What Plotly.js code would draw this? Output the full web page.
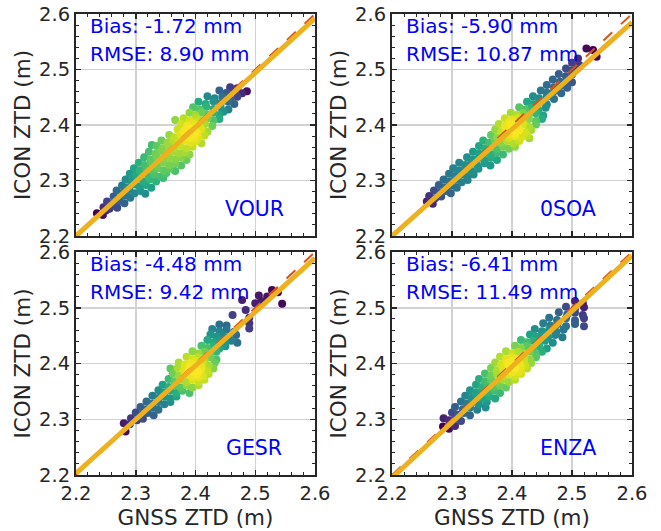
<!DOCTYPE html>
<html>
<head>
<meta charset="utf-8">
<script src="https://cdn.plot.ly/plotly-3.0.1.min.js"></script>
<style>html,body{margin:0;padding:0;background:#fff;}#chart{width:661px;height:531px;}</style>
</head>
<body>
<div id="chart"></div>
<script>
// ---------------- data ----------------
const stations = ['VOUR', '0SOA', 'GESR', 'ENZA'];
const biasMM = ['-1.72', '-5.90', '-4.48', '-6.41'];
const rmseMM = ['8.90', '10.87', '9.42', '11.49'];
const fitSlope = [0.98, 0.9625, 0.965, 0.996];
const fitIntercept = [0.044, 0.0825, 0.080, 0.0038];
const axisRange = [2.2, 2.6];

// [GNSS ZTD, ICON ZTD] pairs (m)
const vourPairs = [
[2.235,2.241],[2.245,2.238],[2.25,2.246],
[2.246,2.252],[2.256,2.249],[2.263,2.255],[2.269,2.251],
[2.252,2.262],[2.262,2.258],[2.273,2.263],[2.281,2.259],
[2.263,2.271],[2.273,2.268],[2.283,2.273],[2.291,2.269],
[2.268,2.282],[2.279,2.278],[2.289,2.283],[2.298,2.277],[2.308,2.281],[2.316,2.276],
[2.277,2.291],[2.287,2.288],[2.296,2.293],[2.306,2.289],[2.317,2.292],[2.326,2.287],
[2.283,2.302],[2.293,2.299],[2.302,2.303],[2.313,2.298],[2.323,2.302],[2.334,2.298],[2.346,2.305],
[2.29,2.312],[2.3,2.309],[2.31,2.313],[2.321,2.308],[2.331,2.311],[2.341,2.307],[2.351,2.313],
[2.297,2.322],[2.307,2.318],[2.317,2.323],[2.327,2.319],[2.337,2.322],[2.347,2.318],[2.357,2.321],[2.366,2.317],
[2.305,2.332],[2.315,2.328],[2.326,2.333],[2.336,2.329],[2.346,2.332],[2.356,2.328],[2.366,2.331],[2.376,2.327],
[2.314,2.342],[2.325,2.338],[2.335,2.343],[2.346,2.339],[2.356,2.342],[2.366,2.338],[2.376,2.341],[2.385,2.337],
[2.322,2.352],[2.333,2.348],[2.343,2.353],[2.353,2.349],[2.362,2.352],[2.372,2.348],[2.382,2.351],[2.39,2.347],
[2.335,2.362],[2.345,2.358],[2.355,2.363],[2.365,2.359],[2.375,2.362],[2.385,2.358],[2.395,2.361],
[2.343,2.372],[2.353,2.368],[2.362,2.373],[2.372,2.369],[2.382,2.372],[2.392,2.368],[2.401,2.371],[2.41,2.367],
[2.356,2.382],[2.365,2.378],[2.375,2.383],[2.385,2.379],[2.395,2.382],[2.405,2.378],[2.415,2.381],
[2.37,2.392],[2.38,2.388],[2.39,2.393],[2.4,2.389],[2.41,2.392],[2.42,2.388],
[2.376,2.402],[2.386,2.398],[2.396,2.403],[2.406,2.399],[2.416,2.402],[2.428,2.398],
[2.38,2.412],[2.39,2.408],[2.4,2.413],[2.41,2.409],[2.42,2.412],[2.43,2.408],[2.44,2.411],
[2.39,2.422],[2.4,2.418],[2.41,2.423],[2.42,2.419],[2.43,2.422],[2.44,2.418],[2.447,2.424],
[2.396,2.432],[2.407,2.428],[2.418,2.433],[2.43,2.429],[2.442,2.432],[2.455,2.428],
[2.405,2.442],[2.417,2.438],[2.43,2.443],[2.442,2.439],[2.455,2.442],[2.465,2.438],
[2.42,2.452],[2.432,2.448],[2.445,2.451],[2.458,2.447],[2.47,2.451],
[2.44,2.462],[2.452,2.458],[2.465,2.461],[2.478,2.457],[2.486,2.461],
[2.458,2.468],[2.47,2.466],
[2.327,2.364],[2.366,2.409],[2.346,2.305],
[2.383,2.385],[2.393,2.385],[2.403,2.386],[2.388,2.395],[2.398,2.396],[2.408,2.395],
[2.393,2.405],[2.403,2.406],[2.413,2.405],[2.398,2.376],[2.39,2.376],[2.38,2.375]
];

const soaPairs = [
[2.258,2.262],[2.268,2.258],
[2.262,2.272],[2.272,2.268],[2.282,2.271],
[2.27,2.282],[2.28,2.278],[2.29,2.281],[2.298,2.277],
[2.278,2.292],[2.288,2.288],[2.298,2.291],[2.308,2.287],
[2.286,2.302],[2.296,2.298],[2.306,2.301],[2.316,2.297],[2.326,2.301],
[2.295,2.312],[2.305,2.308],[2.315,2.311],[2.325,2.307],[2.336,2.311],
[2.302,2.322],[2.312,2.318],[2.322,2.321],[2.332,2.317],[2.344,2.321],
[2.312,2.332],[2.322,2.328],[2.332,2.331],[2.342,2.327],[2.354,2.331],[2.364,2.327],
[2.325,2.342],[2.335,2.338],[2.345,2.341],[2.355,2.337],[2.365,2.341],[2.375,2.337],
[2.335,2.352],[2.345,2.348],[2.355,2.351],[2.365,2.347],[2.375,2.351],[2.385,2.347],
[2.345,2.362],[2.355,2.358],[2.365,2.361],[2.375,2.357],[2.385,2.361],[2.395,2.357],[2.405,2.361],
[2.352,2.372],[2.362,2.368],[2.372,2.371],[2.382,2.367],[2.392,2.371],[2.402,2.367],[2.412,2.371],
[2.365,2.382],[2.375,2.378],[2.385,2.381],[2.395,2.377],[2.405,2.381],[2.415,2.377],[2.425,2.381],
[2.372,2.392],[2.382,2.388],[2.392,2.391],[2.402,2.387],[2.412,2.391],[2.422,2.387],[2.432,2.391],
[2.378,2.402],[2.388,2.398],[2.398,2.401],[2.408,2.397],[2.418,2.401],[2.428,2.397],[2.44,2.401],
[2.388,2.412],[2.398,2.408],[2.408,2.411],[2.418,2.407],[2.428,2.411],[2.44,2.407],[2.45,2.411],
[2.398,2.422],[2.408,2.418],[2.418,2.421],[2.428,2.417],[2.44,2.421],[2.452,2.417],
[2.412,2.432],[2.422,2.428],[2.432,2.431],[2.444,2.427],[2.456,2.431],
[2.425,2.442],[2.435,2.438],[2.445,2.441],[2.458,2.437],
[2.435,2.452],[2.445,2.448],[2.458,2.451],[2.47,2.447],
[2.448,2.462],[2.458,2.458],[2.47,2.461],[2.482,2.457],
[2.458,2.472],[2.47,2.468],[2.482,2.471],[2.492,2.467],
[2.468,2.482],[2.48,2.478],[2.492,2.481],[2.5,2.477],
[2.478,2.492],[2.49,2.488],[2.5,2.491],
[2.49,2.502],[2.5,2.498],[2.508,2.501],
[2.5,2.512],[2.512,2.508],
[2.51,2.52],
[2.524,2.538],[2.541,2.523],[2.535,2.535],
[2.429,2.376],
[2.39,2.395],[2.4,2.394],[2.41,2.395],[2.395,2.405],[2.405,2.404],[2.415,2.405],
[2.385,2.385],[2.395,2.384],[2.405,2.385],[2.4,2.41],[2.41,2.414]
];

const gesrPairs = [
[2.283,2.278],[2.28,2.293],[2.29,2.291],
[2.292,2.302],[2.302,2.298],[2.312,2.301],
[2.3,2.312],[2.31,2.308],[2.32,2.311],[2.33,2.307],
[2.308,2.322],[2.318,2.318],[2.328,2.321],[2.338,2.317],
[2.318,2.332],[2.328,2.328],[2.338,2.331],[2.348,2.327],[2.358,2.331],
[2.328,2.342],[2.338,2.338],[2.348,2.341],[2.358,2.337],[2.368,2.341],
[2.338,2.352],[2.348,2.348],[2.358,2.351],[2.368,2.347],[2.378,2.351],[2.39,2.347],
[2.345,2.362],[2.355,2.358],[2.365,2.361],[2.375,2.357],[2.385,2.361],[2.395,2.357],[2.405,2.361],
[2.355,2.372],[2.365,2.368],[2.375,2.371],[2.385,2.367],[2.395,2.371],[2.405,2.367],[2.415,2.371],
[2.362,2.382],[2.372,2.378],[2.382,2.381],[2.392,2.377],[2.402,2.381],[2.412,2.377],[2.422,2.381],
[2.358,2.391],[2.37,2.392],[2.38,2.388],[2.39,2.391],[2.4,2.387],[2.41,2.391],[2.42,2.387],[2.43,2.391],
[2.372,2.402],[2.382,2.398],[2.392,2.401],[2.402,2.397],[2.412,2.401],[2.422,2.397],[2.432,2.401],
[2.385,2.412],[2.395,2.408],[2.405,2.411],[2.415,2.407],[2.425,2.411],[2.435,2.407],
[2.395,2.422],[2.405,2.418],[2.415,2.421],[2.425,2.417],[2.435,2.421],
[2.41,2.432],[2.42,2.428],[2.43,2.431],[2.44,2.427],[2.45,2.431],
[2.42,2.442],[2.43,2.438],[2.44,2.441],[2.45,2.437],[2.46,2.441],[2.47,2.437],
[2.425,2.452],[2.435,2.448],[2.445,2.451],[2.455,2.447],[2.468,2.451],
[2.428,2.462],[2.44,2.458],[2.452,2.461],[2.465,2.457],
[2.44,2.47],[2.452,2.468],
[2.462,2.487],[2.49,2.472],[2.49,2.482],[2.484,2.496],[2.49,2.463],
[2.478,2.514],[2.5,2.508],[2.51,2.512],
[2.506,2.522],[2.52,2.52],
[2.528,2.532],[2.538,2.528],
[2.545,2.507],
[2.39,2.395],[2.4,2.396],[2.41,2.395],[2.385,2.385],[2.395,2.386],[2.405,2.385],
[2.4,2.405],[2.41,2.404],[2.395,2.375],[2.405,2.376]
];

const enzaPairs = [
[2.285,2.287],[2.295,2.283],[2.305,2.288],
[2.286,2.302],[2.295,2.298],[2.305,2.301],[2.315,2.297],
[2.3,2.312],[2.31,2.308],[2.32,2.311],[2.33,2.307],
[2.305,2.322],[2.318,2.318],[2.33,2.321],[2.342,2.317],[2.356,2.321],
[2.315,2.332],[2.325,2.328],[2.335,2.331],[2.345,2.327],[2.358,2.331],
[2.322,2.342],[2.332,2.338],[2.342,2.341],[2.352,2.337],[2.362,2.341],[2.372,2.337],
[2.33,2.352],[2.34,2.348],[2.35,2.351],[2.36,2.347],[2.37,2.351],[2.38,2.347],
[2.34,2.362],[2.35,2.358],[2.36,2.361],[2.37,2.357],[2.38,2.361],[2.39,2.357],
[2.345,2.372],[2.355,2.368],[2.365,2.371],[2.375,2.367],[2.385,2.371],[2.395,2.367],[2.405,2.371],
[2.355,2.382],[2.365,2.378],[2.375,2.381],[2.385,2.377],[2.395,2.381],[2.405,2.377],[2.415,2.381],
[2.365,2.392],[2.375,2.388],[2.385,2.391],[2.395,2.387],[2.405,2.391],[2.415,2.387],[2.425,2.391],
[2.372,2.402],[2.382,2.398],[2.392,2.401],[2.402,2.397],[2.412,2.401],[2.422,2.397],[2.432,2.401],
[2.38,2.412],[2.39,2.408],[2.4,2.411],[2.41,2.407],[2.42,2.411],[2.43,2.407],[2.44,2.411],
[2.39,2.422],[2.4,2.418],[2.41,2.421],[2.42,2.417],[2.43,2.421],[2.44,2.417],[2.45,2.421],
[2.405,2.432],[2.415,2.428],[2.425,2.431],[2.435,2.427],[2.445,2.431],[2.458,2.427],
[2.415,2.442],[2.425,2.438],[2.435,2.441],[2.445,2.437],[2.455,2.441],[2.468,2.437],
[2.43,2.452],[2.44,2.448],[2.45,2.451],[2.46,2.447],[2.472,2.451],[2.484,2.447],
[2.438,2.462],[2.45,2.458],[2.462,2.461],[2.474,2.457],[2.486,2.461],
[2.452,2.472],[2.464,2.468],[2.476,2.471],[2.49,2.467],[2.505,2.471],[2.52,2.467],
[2.462,2.482],[2.475,2.478],[2.49,2.481],[2.505,2.477],[2.52,2.481],
[2.478,2.492],[2.492,2.488],[2.505,2.491],[2.518,2.487],
[2.49,2.502],[2.505,2.498],[2.52,2.501],
[2.505,2.512],[2.518,2.508],
[2.395,2.395],[2.405,2.394],[2.415,2.395],[2.39,2.385],[2.4,2.384],[2.41,2.385],
[2.4,2.405],[2.41,2.404],[2.42,2.405]
];

const allPairs = [vourPairs, soaPairs, gesrPairs, enzaPairs];

// ---------------- drawing ----------------
const FONT = 'DejaVu Sans, Verdana, sans-serif';
const TXT = '#262626';

// point density (anisotropic kernel: along / across the 1:1 direction)
function density(pairs, hAlong, hAcross) {
  return pairs.map(p => {
    let s = 0;
    for (const q of pairs) {
      const dx = p[0] - q[0], dy = p[1] - q[1];
      const u = (dx + dy) / Math.SQRT2, v = (dy - dx) / Math.SQRT2;
      s += Math.exp(-(u * u) / (2 * hAlong * hAlong) - (v * v) / (2 * hAcross * hAcross));
    }
    return s;
  });
}

const traces = [];
const annotations = [];
allPairs.forEach((pairs, i) => {
  const ax = i === 0 ? '' : String(i + 1);
  const d = density(pairs, 0.028, 0.06);
  const order = d.map((v, k) => k).sort((a, b) => d[a] - d[b]);
  traces.push({
    type: 'scatter', mode: 'markers',
    x: order.map(k => pairs[k][0]),
    y: order.map(k => pairs[k][1]),
    xaxis: 'x' + ax, yaxis: 'y' + ax,
    marker: {size: 8, color: order.map(k => d[k]), colorscale: 'Viridis',
             cmin: Math.min(...d), cmax: Math.max(...d), line: {width: 0}},
    hoverinfo: 'skip'
  });
  traces.push({
    type: 'scatter', mode: 'lines', x: axisRange, y: axisRange,
    xaxis: 'x' + ax, yaxis: 'y' + ax,
    line: {color: '#D95319', width: 2, dash: '12px,12px'}, hoverinfo: 'skip'
  });
  traces.push({
    type: 'scatter', mode: 'lines', x: axisRange,
    y: axisRange.map(v => fitSlope[i] * v + fitIntercept[i]),
    xaxis: 'x' + ax, yaxis: 'y' + ax,
    line: {color: '#EDB120', width: 5}, hoverinfo: 'skip'
  });
  const labelX = [0.879, 0.857, 0.87, 0.857][i];
  annotations.push(
    {xref: 'x' + ax + ' domain', yref: 'y' + ax + ' domain', x: 0.05, y: 0.946,
     xanchor: 'left', yanchor: 'middle', showarrow: false,
     text: 'Bias: ' + biasMM[i] + ' mm', font: {family: FONT, size: 20, color: '#0000FF'}},
    {xref: 'x' + ax + ' domain', yref: 'y' + ax + ' domain', x: 0.05, y: 0.82,
     xanchor: 'left', yanchor: 'middle', showarrow: false,
     text: 'RMSE: ' + rmseMM[i] + ' mm', font: {family: FONT, size: 20, color: '#0000FF'}},
    {xref: 'x' + ax + ' domain', yref: 'y' + ax + ' domain', x: labelX, y: 0.122,
     xanchor: 'right', yanchor: 'middle', showarrow: false,
     text: stations[i], font: {family: FONT, size: 20.5, color: '#0000FF'}}
  );
});

function axis(domain, anchor, showLabels, title) {
  const a = {
    domain: domain, anchor: anchor, range: axisRange.slice(),
    tickmode: 'linear', tick0: 2.2, dtick: 0.1, tickformat: '.1f',
    showticklabels: showLabels,
    ticks: 'inside', ticklen: 5, tickwidth: 1.5, tickcolor: TXT,
    minor: {tickmode: 'linear', tick0: 2.2, dtick: 0.02, ticks: 'inside', ticklen: 3,
            tickwidth: 1, tickcolor: TXT, showgrid: false},
    showgrid: true, gridcolor: '#d2d2d2', gridwidth: 1.5,
    showline: true, linecolor: TXT, linewidth: 2, mirror: 'allticks',
    zeroline: false, fixedrange: true,
    tickfont: {family: FONT, size: 19.5, color: TXT}
  };
  if (title) a.title = {text: title, font: {family: FONT, size: 21.5, color: TXT}, standoff: 3};
  return a;
}

const xL = [76 / 661, 315 / 661], xR = [392 / 661, 632 / 661];
const yT = [(531 - 236) / 531, (531 - 14) / 531], yB = [(531 - 475) / 531, (531 - 252) / 531];

const layout = {
  width: 661, height: 531,
  margin: {l: 0, r: 0, t: 0, b: 0},
  paper_bgcolor: '#ffffff', plot_bgcolor: '#ffffff',
  showlegend: false,
  font: {family: FONT, color: TXT},
  xaxis: axis(xL, 'y', false, null),
  yaxis: axis(yT, 'x', true, 'ICON ZTD (m)'),
  xaxis2: axis(xR, 'y2', false, null),
  yaxis2: axis(yT, 'x2', true, 'ICON ZTD (m)'),
  xaxis3: axis(xL, 'y3', true, 'GNSS ZTD (m)'),
  yaxis3: axis(yB, 'x3', true, 'ICON ZTD (m)'),
  xaxis4: axis(xR, 'y4', true, 'GNSS ZTD (m)'),
  yaxis4: axis(yB, 'x4', true, 'ICON ZTD (m)'),
  annotations: annotations
};

Plotly.newPlot('chart', traces, layout, {displayModeBar: false, staticPlot: true});
</script>
</body>
</html>
